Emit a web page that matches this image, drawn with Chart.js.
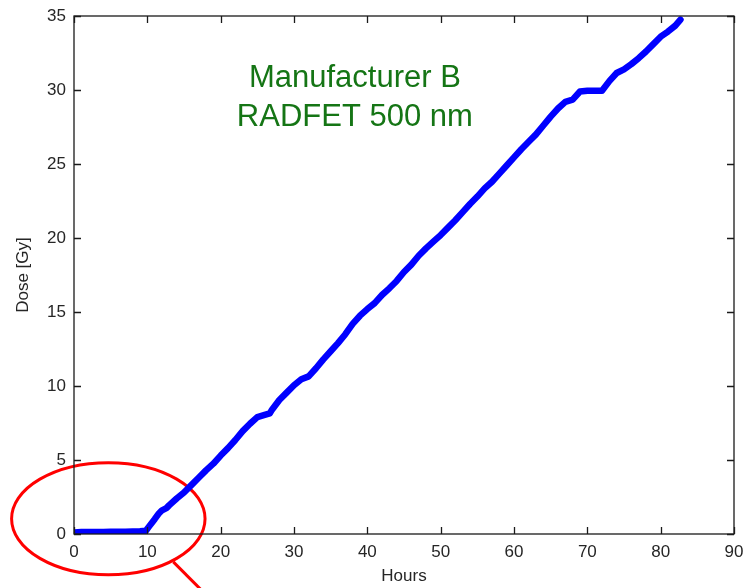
<!DOCTYPE html>
<html>
<head>
<meta charset="utf-8">
<script src="https://cdn.jsdelivr.net/npm/chart.js@4/dist/chart.umd.min.js"></script>
<style>
  html, body { margin: 0; padding: 0; background: #ffffff; }
  #wrap { width: 745px; height: 588px; position: relative; }
</style>
</head>
<body>
<div id="wrap"><canvas id="c" width="745" height="588"></canvas></div>
<script>
// ---- data ----
const hours = [0,1,2,3,4,5,6,7,8,9,9.8,10.3,11,11.5,12,12.6,13,14,15,16,17,18,19,20,21,22,23,24,25,26,26.7,27,28,29,30,31,32,33,34,35,36,37,38,39,40,41,42,43,44,45,46,47,48,49,50,51,52,53,54,55,56,57,58,59,60,61,62,63,64,65,66,67,68,69,70,71,72,73,74,75,76,77,78,79,80,81,82,82.7];
const dose  = [0.10,0.13,0.13,0.14,0.14,0.15,0.15,0.16,0.17,0.19,0.22,0.55,1.0,1.35,1.6,1.75,1.95,2.4,2.8,3.3,3.8,4.3,4.75,5.3,5.8,6.35,6.95,7.45,7.9,8.05,8.15,8.4,9.05,9.55,10.05,10.45,10.65,11.2,11.8,12.35,12.9,13.5,14.2,14.75,15.2,15.6,16.15,16.6,17.1,17.7,18.2,18.8,19.3,19.75,20.2,20.7,21.2,21.75,22.3,22.8,23.35,23.8,24.35,24.9,25.45,26.0,26.5,27.0,27.6,28.2,28.75,29.2,29.35,29.9,29.95,29.95,29.95,30.6,31.15,31.4,31.75,32.15,32.6,33.1,33.6,33.95,34.35,34.75];
const xTicks = [0,10,20,30,40,50,60,70,80,90];
const yTicks = [0,5,10,15,20,25,30,35];
const titleLines = ["Manufacturer B", "RADFET 500 nm"];
const xAxisTitle = "Hours";
const yAxisTitle = "Dose [Gy]";
// annotation (red ellipse + pointer line) in data units
const ellipseCenter = [4.68, 1.03];
const ellipseRadii = [13.19, 3.79];
const pointerLine = [[13.54, -1.88], [18.6, -4.4]];
const titleAnchor = [38.3, 30.2, 27.55];

const points = hours.map((h, i) => ({ x: h, y: dose[i] }));
const FONT = "'Liberation Sans', Arial, sans-serif";

const decor = {
  id: 'decor',
  beforeDatasetsDraw(chart) {
    const { ctx, scales: { x, y } } = chart;
    ctx.save();
    const cx = x.getPixelForValue(ellipseCenter[0]);
    const cy = y.getPixelForValue(ellipseCenter[1]);
    const rx = x.getPixelForValue(ellipseCenter[0] + ellipseRadii[0]) - cx;
    const ry = cy - y.getPixelForValue(ellipseCenter[1] + ellipseRadii[1]);
    ctx.strokeStyle = '#ff0000';
    ctx.lineWidth = 3;
    ctx.beginPath();
    ctx.ellipse(cx, cy, rx, ry, 0, 0, Math.PI * 2);
    ctx.stroke();
    ctx.beginPath();
    ctx.moveTo(x.getPixelForValue(pointerLine[0][0]), y.getPixelForValue(pointerLine[0][1]));
    ctx.lineTo(x.getPixelForValue(pointerLine[1][0]), y.getPixelForValue(pointerLine[1][1]));
    ctx.stroke();
    ctx.restore();
  },
  afterDatasetsDraw(chart) {
    const { ctx, chartArea: a, scales: { x, y } } = chart;
    ctx.save();
    ctx.strokeStyle = '#1a1a1a';
    ctx.lineWidth = 1.3;
    ctx.strokeRect(a.left, a.top, a.right - a.left, a.bottom - a.top);
    const tl = 7;
    ctx.beginPath();
    xTicks.forEach(v => {
      const px = Math.round(x.getPixelForValue(v)) + 0.5;
      ctx.moveTo(px, a.bottom); ctx.lineTo(px, a.bottom - tl);
      ctx.moveTo(px, a.top); ctx.lineTo(px, a.top + tl);
    });
    yTicks.forEach(v => {
      const py = Math.round(y.getPixelForValue(v)) + 0.5;
      ctx.moveTo(a.left, py); ctx.lineTo(a.left + tl, py);
      ctx.moveTo(a.right, py); ctx.lineTo(a.right - tl, py);
    });
    ctx.stroke();
    ctx.fillStyle = '#157515';
    ctx.font = "31px " + FONT;
    ctx.textAlign = 'center';
    ctx.textBaseline = 'alphabetic';
    const tx = x.getPixelForValue(titleAnchor[0]);
    ctx.fillText(titleLines[0], tx, y.getPixelForValue(titleAnchor[1]));
    ctx.fillText(titleLines[1], tx, y.getPixelForValue(titleAnchor[2]));
    ctx.restore();
  }
};

new Chart(document.getElementById('c'), {
  type: 'line',
  data: {
    datasets: [{
      data: points,
      borderColor: '#0000ff',
      backgroundColor: '#0000ff',
      borderWidth: 6.5,
      pointRadius: 0,
      borderCapStyle: 'round',
      borderJoinStyle: 'round',
      tension: 0,
      fill: false
    }]
  },
  options: {
    responsive: false,
    animation: false,
    devicePixelRatio: 1,
    layout: { padding: { top: 16, right: 11, left: 0, bottom: 0 } },
    plugins: { legend: { display: false }, tooltip: { enabled: false } },
    scales: {
      x: {
        type: 'linear', min: 0, max: 90,
        afterBuildTicks: s => { s.ticks = xTicks.map(v => ({ value: v })); },
        afterFit: s => { s.height = 54; s.paddingLeft = 0; s.paddingRight = 0; },
        grid: { display: false, drawTicks: false },
        border: { display: false },
        ticks: { color: '#262626', font: { family: FONT, size: 17 }, padding: 8, maxRotation: 0 },
        title: { display: true, text: xAxisTitle, color: '#262626', font: { family: FONT, size: 17 }, padding: { top: 0, bottom: 1 } }
      },
      y: {
        type: 'linear', min: 0, max: 35,
        afterBuildTicks: s => { s.ticks = yTicks.map(v => ({ value: v })); },
        afterFit: s => { s.width = 74; s.paddingTop = 0; s.paddingBottom = 0; },
        grid: { display: false, drawTicks: false },
        border: { display: false },
        ticks: { color: '#262626', font: { family: FONT, size: 17 }, padding: 8 },
        title: { display: true, text: yAxisTitle, color: '#262626', font: { family: FONT, size: 17 }, padding: { top: 13, bottom: 0 } }
      }
    }
  },
  plugins: [decor]
});
</script>
</body>
</html>
